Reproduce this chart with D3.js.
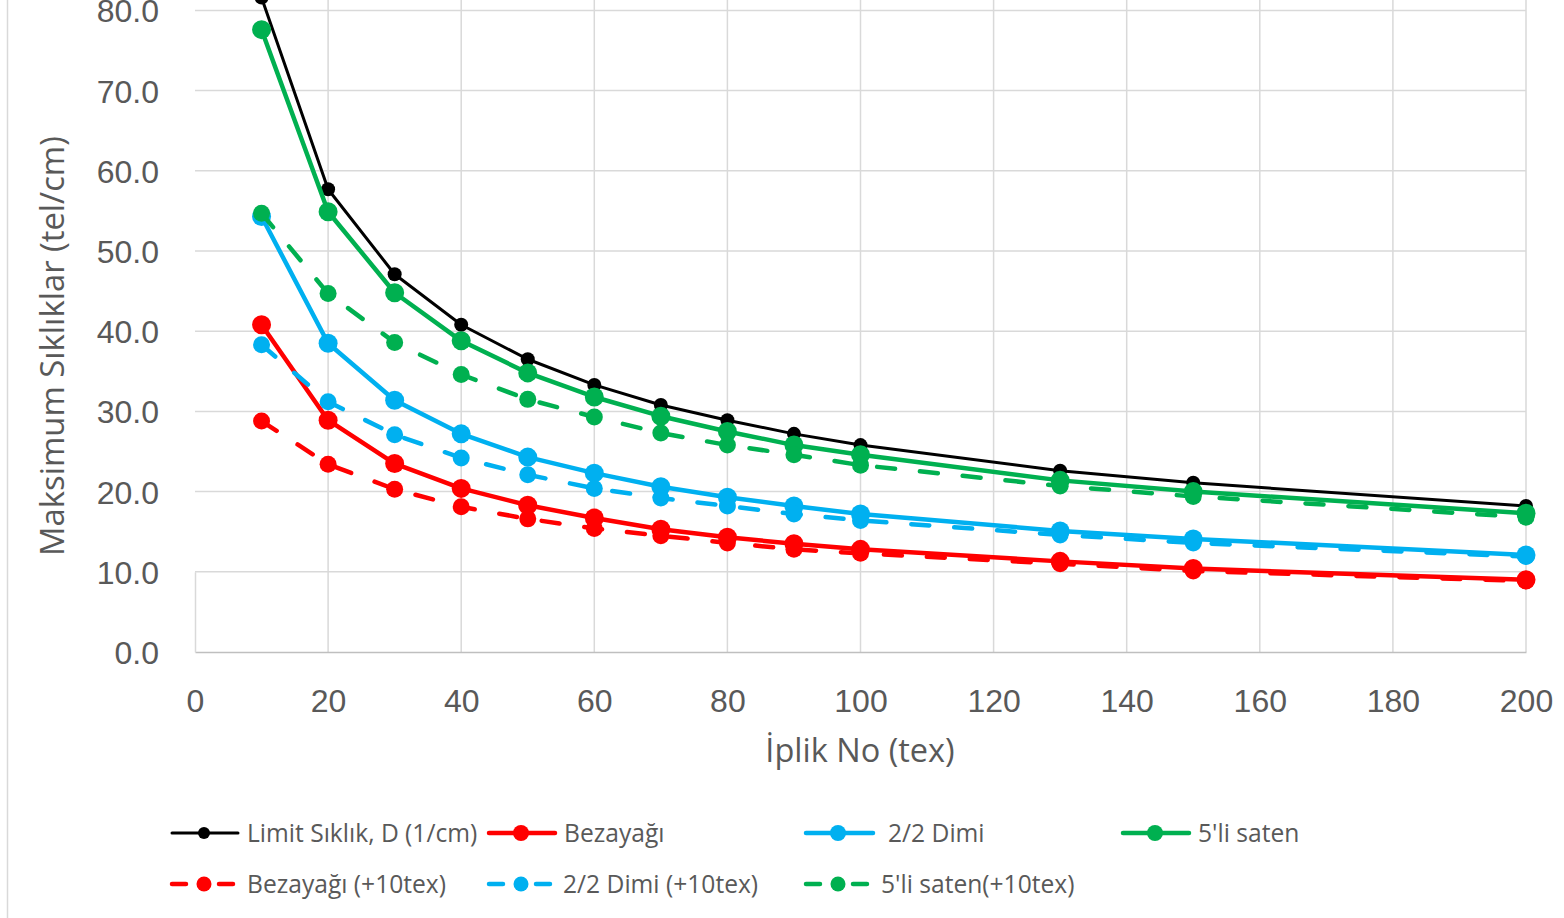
<!DOCTYPE html>
<html>
<head>
<meta charset="utf-8">
<script src="https://cdn.jsdelivr.net/npm/d3@7"></script>
<style>
  html, body { margin: 0; padding: 0; background: #fff; overflow: hidden; }
  svg { display: block; font-family: "Open Sans", "Noto Sans", sans-serif; }
</style>
</head>
<body>
<svg id="chart" width="1564" height="918"></svg>
<script>
// Veri: iplik numarası (tex) ve maksimum sıklıklar (tel/cm)
const texValues = [10, 20, 30, 40, 50, 60, 70, 80, 90, 100, 130, 150, 200];

const limitDensity   = [81.6, 57.7, 47.1, 40.8, 36.5, 33.3, 30.8, 28.9, 27.2, 25.8, 22.6, 21.1, 18.2];
const plainWeave     = [40.8, 28.9, 23.5, 20.4, 18.3, 16.7, 15.3, 14.3, 13.5, 12.8, 11.3, 10.4, 9.0];
const twillWeave     = [54.3, 38.5, 31.4, 27.2, 24.3, 22.3, 20.6, 19.3, 18.2, 17.2, 15.1, 14.1, 12.1];
const satinWeave     = [77.6, 54.9, 44.8, 38.8, 34.8, 31.8, 29.4, 27.5, 25.8, 24.6, 21.4, 20.0, 17.3];
const plainWeave10   = [28.8, 23.4, 20.3, 18.1, 16.6, 15.4, 14.5, 13.6, 12.8, 12.3, 11.0, 10.1, 8.85];
const twillWeave10   = [38.3, 31.2, 27.1, 24.2, 22.1, 20.4, 19.2, 18.2, 17.2, 16.4, 14.6, 13.6, 11.9];
const satinWeave10   = [54.7, 44.7, 38.6, 34.6, 31.5, 29.3, 27.3, 25.8, 24.6, 23.3, 20.7, 19.4, 16.8];

const seriesNames = [
  "Limit Sıklık, D (1/cm)", "Bezayağı", "2/2 Dimi", "5'li saten",
  "Bezayağı (+10tex)", "2/2 Dimi (+10tex)", "5'li saten(+10tex)"
];

const xTicks = [0, 20, 40, 60, 80, 100, 120, 140, 160, 180, 200];
const yTicks = [0, 10, 20, 30, 40, 50, 60, 70, 80];

// Seri görünümleri
const series = [
  { name: seriesNames[0], values: limitDensity, color: "#000000", width: 3,   r: 7,   dash: null },
  { name: seriesNames[1], values: plainWeave,   color: "#FF0000", width: 4.5, r: 9.5, dash: null },
  { name: seriesNames[2], values: twillWeave,   color: "#00B0F0", width: 4.5, r: 9.5, dash: null },
  { name: seriesNames[3], values: satinWeave,   color: "#00B050", width: 4.5, r: 9.5, dash: null },
  { name: seriesNames[4], values: plainWeave10, color: "#FF0000", width: 4.5, r: 8.5, dash: "18,25" },
  { name: seriesNames[5], values: twillWeave10, color: "#00B0F0", width: 4.5, r: 8.5, dash: "18,25" },
  { name: seriesNames[6], values: satinWeave10, color: "#00B050", width: 4.5, r: 8.5, dash: "18,25" }
];

const svg = d3.select("#chart");

// Ölçekler
const x = d3.scaleLinear().domain([0, 200]).range([195, 1526]);
const y = d3.scaleLinear().domain([0, 10]).range([652, 571.8]);
const yTop = y(90);

// Sol kenar çizgisi
svg.append("line")
  .attr("x1", 7.5).attr("x2", 7.5)
  .attr("y1", 0).attr("y2", 918)
  .attr("stroke", "#d9d9d9").attr("stroke-width", 1.5);

// Izgara çizgileri
svg.append("g")
  .selectAll("line.h")
  .data(yTicks.filter(d => d > 0))
  .enter().append("line")
  .attr("x1", x(0)).attr("x2", x(200))
  .attr("y1", d => y(d)).attr("y2", d => y(d))
  .attr("stroke", "#d9d9d9").attr("stroke-width", 1.5);

svg.append("g")
  .selectAll("line.v")
  .data(xTicks.filter(d => d > 0))
  .enter().append("line")
  .attr("x1", d => x(d)).attr("x2", d => x(d))
  .attr("y1", yTop).attr("y2", y(0))
  .attr("stroke", "#d9d9d9").attr("stroke-width", 1.5);

// Eksenler
const xAxis = svg.append("g")
  .attr("transform", `translate(0,${y(0)})`)
  .call(d3.axisBottom(x).tickValues(xTicks).tickSize(0).tickPadding(0).tickFormat(d3.format("d")));
xAxis.select(".domain").attr("stroke", "#bfbfbf").attr("stroke-width", 1.5);
xAxis.selectAll("text")
  .attr("y", 60).attr("dy", null)
  .style("font-size", "32px").style("fill", "#595959").style("font-family", "inherit");

const yAxis = svg.append("g")
  .attr("transform", `translate(${x(0)},0)`)
  .call(d3.axisLeft(y).tickValues(yTicks).tickSize(0).tickPadding(0).tickFormat(d3.format(".1f")));
yAxis.select(".domain").attr("stroke", "#d9d9d9").attr("stroke-width", 1.5);
yAxis.selectAll("text")
  .attr("x", -36).attr("dy", "11.5px")
  .style("font-size", "32px").style("fill", "#595959").style("font-family", "inherit");

// Eksen başlıkları
svg.append("text")
  .attr("x", 860).attr("y", 762)
  .attr("text-anchor", "middle")
  .style("font-size", "32.5px").style("fill", "#595959")
  .text("İplik No (tex)");

svg.append("text")
  .attr("transform", "translate(64,346) rotate(-90)")
  .attr("text-anchor", "middle")
  .style("font-size", "32.8px").style("fill", "#595959")
  .text("Maksimum Sıklıklar (tel/cm)");

// Çizgiler ve işaretçiler
const line = d3.line()
  .x((d, i) => x(texValues[i]))
  .y(d => y(d));

series.forEach(s => {
  const g = svg.append("g");
  g.append("path")
    .datum(s.values)
    .attr("d", line)
    .attr("fill", "none")
    .attr("stroke", s.color)
    .attr("stroke-width", s.width)
    .attr("stroke-linejoin", "round")
    .attr("stroke-linecap", "round")
    .attr("stroke-dasharray", s.dash);
  g.selectAll("circle")
    .data(s.values)
    .enter().append("circle")
    .attr("cx", (d, i) => x(texValues[i]))
    .attr("cy", d => y(d))
    .attr("r", s.r)
    .attr("fill", s.color);
});

// Lejant
const legendPos = [
  { x: 172, y: 833, len: 66, tx: 247 },
  { x: 489, y: 833, len: 66, tx: 564 },
  { x: 806, y: 833, len: 67, tx: 888 },
  { x: 1123, y: 833, len: 66, tx: 1198 },
  { x: 172, y: 884, len: 61, tx: 247 },
  { x: 489, y: 884, len: 61, tx: 563 },
  { x: 806, y: 884, len: 61, tx: 881 }
];

series.forEach((s, i) => {
  const p = legendPos[i];
  const g = svg.append("g");
  g.append("line")
    .attr("x1", p.x).attr("x2", p.x + p.len)
    .attr("y1", p.y).attr("y2", p.y)
    .attr("stroke", s.color)
    .attr("stroke-width", s.width)
    .attr("stroke-linecap", "round")
    .attr("stroke-dasharray", s.dash ? "14,33" : null);
  g.append("circle")
    .attr("cx", p.x + 32).attr("cy", p.y)
    .attr("r", s.dash ? 7.5 : (i === 0 ? 6 : 8))
    .attr("fill", s.color);
  g.append("text")
    .attr("x", p.tx).attr("y", p.y + 8.5)
    .style("font-size", "24.6px").style("fill", "#595959")
    .text(s.name);
});
</script>
</body>
</html>
